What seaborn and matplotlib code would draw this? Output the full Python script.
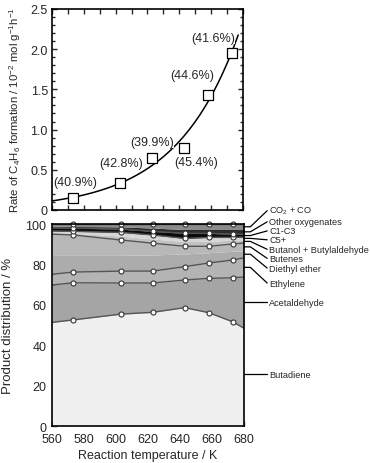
import numpy as np
import pandas as pd
import matplotlib
matplotlib.use('Agg')
import matplotlib.pyplot as plt
from matplotlib.ticker import MultipleLocator, FuncFormatter
import seaborn as sns

# ---------------- data ----------------
# top panel: rate of butadiene formation (selectivity in brackets)
temps = [573, 603, 623, 643, 658, 673]
rate = [0.15, 0.34, 0.65, 0.77, 1.43, 1.95]
sel_labels = ['(40.9%)', '(42.8%)', '(39.9%)', '(45.4%)', '(44.6%)', '(41.6%)']

# bottom panel: cumulative boundaries (top edge of each product)
area_temps = [560, 573, 603, 623, 643, 658, 673, 680]
products = ['Butadiene', 'Acetaldehyde', 'Ethylene', 'Diethyl ether', 'Butenes',
            'Butanol + Butylaldehyde', 'C5+', 'C1-C3', 'Other oxygenates', 'CO$_2$ + CO']
tops = {
    'Butadiene':               [51.3, 52.5, 55.4, 56.3, 58.6, 56.1, 51.6, 48.4],
    'Acetaldehyde':            [69.8, 70.9, 70.8, 70.8, 72.3, 73.1, 73.4, 73.8],
    'Ethylene':                [75.1, 76.2, 76.7, 76.7, 78.9, 80.7, 82.2, 83.3],
    'Diethyl ether':           [84.5, 84.5, 84.5, 84.7, 85.2, 85.8, 86.5, 86.8],
    'Butenes':                 [95.0, 94.6, 92.1, 90.5, 89.0, 89.0, 90.1, 90.6],
    'Butanol + Butylaldehyde': [95.8, 95.5, 94.0, 92.6, 91.3, 91.5, 92.0, 92.2],
    'C5+':                     [96.6, 96.4, 95.9, 94.6, 92.9, 93.4, 93.4, 93.6],
    'C1-C3':                   [98.2, 98.0, 97.5, 96.4, 95.4, 95.4, 95.0, 95.0],
    'Other oxygenates':        [99.0, 98.8, 98.6, 98.0, 97.3, 97.3, 97.3, 97.3],
    'CO$_2$ + CO':             [100, 100, 100, 100, 100, 100, 100, 100],
}
# boundaries that carry measured points
marked = ['Butadiene', 'Acetaldehyde', 'Ethylene', 'Butenes', 'C5+', 'C1-C3', 'CO$_2$ + CO']
# label heights (in % units) for the leader lines on the right
label_y = [25.7, 61.2, 70.8, 78.2, 83.0, 87.5, 92.2, 96.6, 101.1, 106.6]

colors = ['#f0f0f0', '#a5a5a5', '#b4b4b4', '#acacac', '#b8b8b8',
          '#c2c2c2', '#d6d6d6', '#0a0a0a', '#2c2c2c', '#8a8a8a']

# ---------------- style ----------------
sns.set_style('ticks')
plt.rcParams['font.family'] = ['Liberation Sans', 'DejaVu Sans']
plt.rcParams['mathtext.default'] = 'regular'
plt.rcParams['xtick.direction'] = 'in'
plt.rcParams['ytick.direction'] = 'in'
plt.rcParams['axes.linewidth'] = 1.2
plt.rcParams['axes.edgecolor'] = 'black'

fig = plt.figure(figsize=(3.7, 4.64), dpi=100)
ax1 = fig.add_axes([0.1405, 0.5453, 0.5162, 0.4332])
ax2 = fig.add_axes([0.1405, 0.0797, 0.5189, 0.4353])

# ---------------- top panel ----------------
k, b = np.polyfit(temps, np.log(rate), 1)
t_fit = np.linspace(560, 677, 120)
sns.lineplot(x=t_fit, y=np.exp(k * t_fit + b), color='black', lw=1.1, ax=ax1)
rate_df = pd.DataFrame({'T': temps, 'rate': rate})
sns.scatterplot(data=rate_df, x='T', y='rate', marker='s', s=58, color='white',
                edgecolor='black', linewidth=0.9, ax=ax1, zorder=3)

label_pos = [(574.4, 0.35), (603.3, 0.585), (622.8, 0.846),
             (650.5, 0.597), (648.0, 1.68), (661.1, 2.14)]
for (tx, ty), lab in zip(label_pos, sel_labels):
    ax1.text(tx, ty, lab, ha='center', va='center', fontsize=9, zorder=4,
             bbox=dict(facecolor='white', edgecolor='none', pad=0.3))

ax1.set_xlim(560, 680)
ax1.set_ylim(0, 2.5)
ax1.xaxis.set_major_locator(MultipleLocator(10))
ax1.set_xticklabels([])
ax1.yaxis.set_major_locator(MultipleLocator(0.5))
ax1.yaxis.set_minor_locator(MultipleLocator(0.1))
ax1.yaxis.set_major_formatter(FuncFormatter(lambda v, p: '0' if v == 0 else f'{v:.1f}'))
ax1.tick_params(which='both', top=True, right=True, labelsize=9, width=1, pad=3)
ax1.tick_params(which='major', length=3.5)
ax1.tick_params(which='minor', length=2.5)
ax1.set_xlabel('')
ax1.set_ylabel('Rate of C$_4$H$_6$ formation / 10$^{-2}$ mol g$^{-1}$h$^{-1}$',
               fontsize=8.2, labelpad=5)

# ---------------- bottom panel ----------------
lower = np.zeros(len(area_temps))
for name, col in zip(products, colors):
    upper = np.array(tops[name], dtype=float)
    ax2.fill_between(area_temps, lower, upper, color=col, lw=0, zorder=1)
    lower = upper

for name in marked:
    sns.lineplot(x=area_temps, y=tops[name], color='#555555', lw=1.0, ax=ax2, zorder=2)
    pts = tops[name][1:-1]
    ax2.plot(temps, pts, 'o', ms=3.6, mfc='white', mec='#333333', mew=0.8,
             zorder=3, clip_on=False)

# leader lines and product names on the right
lower = np.zeros(len(area_temps))
for i, name in enumerate(products):
    upper = np.array(tops[name], dtype=float)
    y0 = (lower[-1] + upper[-1]) / 2
    if name in ('Butadiene', 'Acetaldehyde'):
        y0 = label_y[i]
    ax2.plot([680, 684, 694.5], [y0, y0, label_y[i]], color='black', lw=0.9,
             clip_on=False, zorder=5)
    ax2.text(695.8, label_y[i], products[i], fontsize=6.6, ha='left', va='center')
    lower = upper

ax2.set_xlim(560, 680)
ax2.set_ylim(0, 100)
ax2.xaxis.set_major_locator(MultipleLocator(20))
ax2.xaxis.set_minor_locator(MultipleLocator(10))
ax2.yaxis.set_major_locator(MultipleLocator(20))
ax2.yaxis.set_minor_locator(MultipleLocator(5))
ax2.tick_params(which='both', labelsize=9, width=1)
ax2.tick_params(axis='x', pad=5)
ax2.tick_params(axis='y', pad=4)
ax2.tick_params(which='major', length=3.5)
ax2.tick_params(which='minor', length=3.5, axis='x')
ax2.tick_params(which='minor', length=2.5, axis='y')
ax2.set_xlabel('Reaction temperature / K', fontsize=9, labelpad=3)
ax2.set_ylabel('Product distribution / %', fontsize=9.5, labelpad=8)
for sp in ax2.spines.values():
    sp.set_zorder(6)

fig.savefig('out.png', dpi=100)
